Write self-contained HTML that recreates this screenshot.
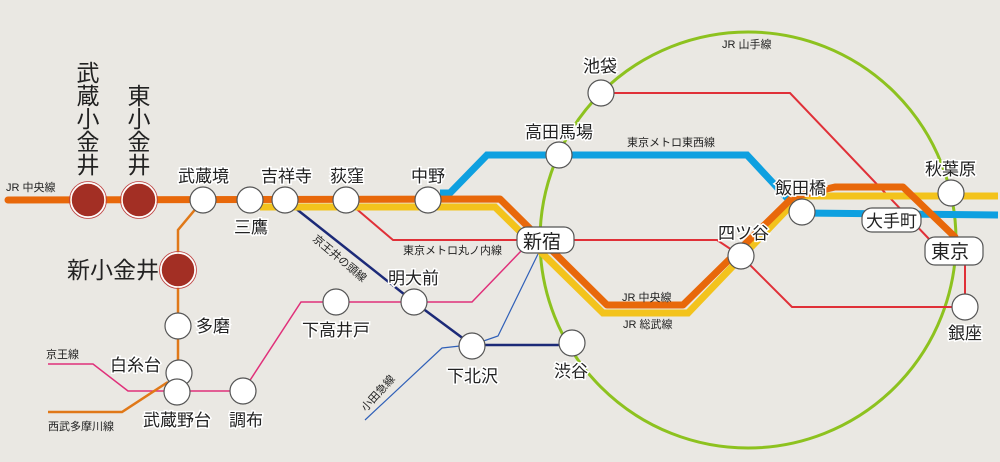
<!DOCTYPE html>
<html><head><meta charset="utf-8"><style>
html,body{margin:0;padding:0;background:#eae8e3;}
svg{display:block;}
text{font-family:"Liberation Sans","Noto Sans CJK JP",sans-serif;fill:#222;}
.lbl{font-size:17px;paint-order:stroke;stroke:#fff;stroke-width:3px;}
.sm{font-size:11px;fill:#333;}
.red{fill:#b0302c;font-size:23px;}
.st{fill:#fff;stroke:#555;stroke-width:1.2;}
</style></head><body>
<svg width="1000" height="462" viewBox="0 0 1000 462" xmlns="http://www.w3.org/2000/svg">
<rect width="1000" height="462" fill="#eae8e3"/>
<!-- Yamanote -->
<circle cx="748" cy="240" r="208" fill="none" stroke="#8dc21f" stroke-width="3"/>
<!-- thin lines -->
<polyline points="48,364 93,364 128,391 243,391 301,302 472,302 522,250" fill="none" stroke="#e0307a" stroke-width="1.5"/>
<polyline points="48,412 122,412 168,382" fill="none" stroke="#e07818" stroke-width="2.5"/>
<polyline points="203,200 178,230 178,372" fill="none" stroke="#e07818" stroke-width="2.5"/>
<polyline points="365,420 442,348 460,346" fill="none" stroke="#3060b8" stroke-width="1.2"/>
<polyline points="472,345 498,336 538,254" fill="none" stroke="#3060b8" stroke-width="1.2"/>
<polyline points="285,200 414,302 472,345 572,345" fill="none" stroke="#1c2a78" stroke-width="2.5"/>
<polyline points="346,200 393,240 717,240 741,256 792,307 965,307 965,265" fill="none" stroke="#e03038" stroke-width="2"/>
<polyline points="601,93 790,93 930,240" fill="none" stroke="#e03038" stroke-width="2"/>
<!-- Tozai -->
<polyline points="440,193 450,193 487,155 747,155 787,198 802,213 998,215" fill="none" stroke="#0ea0e0" stroke-width="7"/>
<!-- Sobu yellow -->
<polyline points="260,207 495,207 603,313 688,313 800,196 998,196" fill="none" stroke="#f3c31c" stroke-width="7"/>
<!-- Chuo orange -->
<polyline points="8,200 500,199 607,305 683,305 793,197 835,187 903,187 955,237" fill="none" stroke="#e8680a" stroke-width="7" stroke-linecap="round" stroke-linejoin="round"/>
<!-- red stations -->
<g fill="#a32f24" stroke="#fff" stroke-width="1.5">
<circle cx="88" cy="200" r="17"/><circle cx="139" cy="200" r="17"/><circle cx="178" cy="270" r="17"/>
</g>
<g fill="none" stroke="#c04040" stroke-width="0.8">
<circle cx="88" cy="200" r="18.5"/><circle cx="139" cy="200" r="18.5"/><circle cx="178" cy="270" r="18.5"/>
</g>
<!-- white stations -->
<g class="st">
<circle cx="203" cy="200" r="13"/><circle cx="250" cy="200" r="13"/><circle cx="285" cy="200" r="13"/>
<circle cx="346" cy="200" r="13"/><circle cx="428" cy="200" r="13"/>
<circle cx="178" cy="326" r="13"/><circle cx="179" cy="373" r="13"/><circle cx="177" cy="392" r="13"/>
<circle cx="243" cy="391" r="13"/><circle cx="336" cy="302" r="13"/><circle cx="414" cy="302" r="13"/>
<circle cx="472" cy="346" r="13"/><circle cx="572" cy="343" r="13"/>
<circle cx="601" cy="93" r="13"/><circle cx="559" cy="155" r="13"/>
<circle cx="741" cy="256" r="13"/><circle cx="802" cy="212" r="13"/>
<circle cx="951" cy="193" r="13"/><circle cx="965" cy="307" r="13"/>
<rect x="517" y="227" width="57" height="26" rx="10"/>
<rect x="862" y="208" width="59" height="24" rx="10"/>
<rect x="925" y="237" width="58" height="28" rx="10"/>
</g>
<!-- red labels -->
<g class="red" text-anchor="middle">
<text x="88" y="81">武</text><text x="88" y="104">蔵</text><text x="88" y="127">小</text><text x="88" y="150">金</text><text x="88" y="173">井</text>
<text x="139" y="104">東</text><text x="139" y="127">小</text><text x="139" y="150">金</text><text x="139" y="173">井</text>
<text x="113" y="278">新小金井</text>
</g>
<!-- station labels -->
<g class="lbl">
<text x="178" y="182">武蔵境</text>
<text x="234" y="233">三鷹</text>
<text x="261" y="182">吉祥寺</text>
<text x="330" y="182">荻窪</text>
<text x="411" y="182">中野</text>
<text x="196" y="332">多磨</text>
<text x="110" y="371">白糸台</text>
<text x="143" y="426">武蔵野台</text>
<text x="229" y="426">調布</text>
<text x="302" y="336">下高井戸</text>
<text x="388" y="284">明大前</text>
<text x="447" y="382">下北沢</text>
<text x="554" y="377">渋谷</text>
<text x="583" y="72">池袋</text>
<text x="525" y="138">高田馬場</text>
<text x="718" y="239">四ツ谷</text>
<text x="775" y="194">飯田橋</text>
<text x="925" y="175">秋葉原</text>
<text x="948" y="339">銀座</text>
</g>
<text x="523" y="248" font-size="19">新宿</text>
<text x="866" y="227" font-size="17">大手町</text>
<text x="931" y="258" font-size="19">東京</text>
<!-- line labels -->
<g class="sm">
<text x="6" y="191">JR 中央線</text>
<text x="403" y="254">東京メトロ丸ノ内線</text>
<text x="627" y="146">東京メトロ東西線</text>
<text x="722" y="48">JR 山手線</text>
<text x="622" y="301">JR 中央線</text>
<text x="623" y="328">JR 総武線</text>
<text x="46" y="358">京王線</text>
<text x="48" y="430">西武多摩川線</text>
<text transform="translate(312,240) rotate(40)">京王井の頭線</text>
<text transform="translate(366,412) rotate(-48)">小田急線</text>
</g>
</svg>
</body></html>
